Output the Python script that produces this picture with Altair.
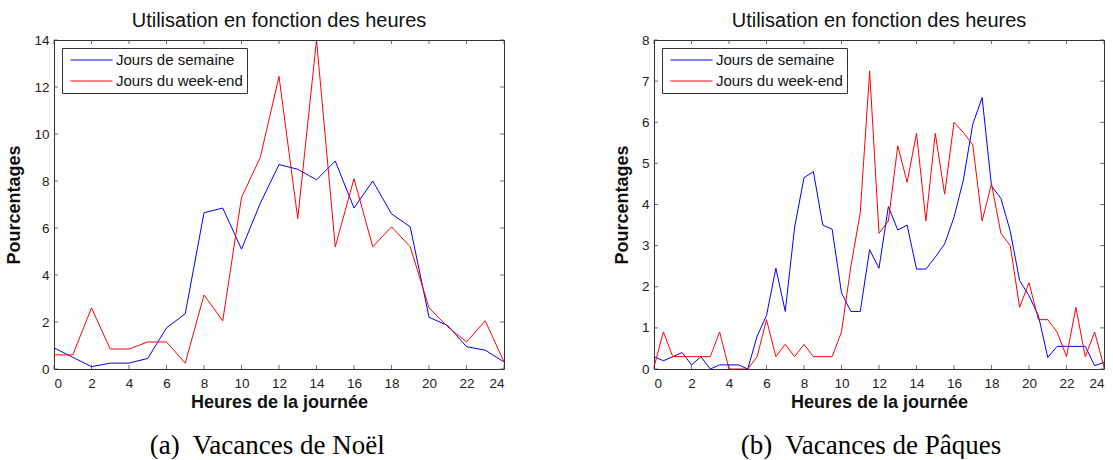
import altair as alt
import pandas as pd

SERIES = ["Jours de semaine", "Jours du week-end"]
COLORS = ["#0000ff", "#ff0000"]
AXIS_COLOR = "#333333"

x_tick_values = list(range(0, 25, 2))

# Vacances de Noël : one value per hour
noel_hours = list(range(0, 25))
noel_semaine = [0.9, 0.5, 0.1, 0.25, 0.25, 0.45, 1.75, 2.35, 6.65, 6.85, 5.1,
                7.05, 8.7, 8.5, 8.05, 8.85, 6.85, 8.0, 6.6, 6.05, 2.2, 1.85,
                0.95, 0.8, 0.3]
noel_weekend = [0.6, 0.6, 2.6, 0.85, 0.85, 1.15, 1.15, 0.25, 3.15, 2.05, 7.3,
                9.0, 12.45, 6.4, 14.0, 5.2, 8.1, 5.2, 6.05, 5.2, 2.6, 1.8,
                1.15, 2.05, 0.3]
noel_y_ticks = list(range(0, 15, 2))

# Vacances de Pâques : one value per half hour
paques_hours = [h / 2 for h in range(0, 49)]
paques_semaine = [0.3, 0.2, 0.3, 0.4, 0.1, 0.3, 0.0, 0.1, 0.1, 0.1,
                  0.0, 0.8, 1.3, 2.45, 1.4, 3.45, 4.65, 4.8, 3.5, 3.4,
                  1.85, 1.4, 1.4, 2.9, 2.45, 3.95, 3.38, 3.5, 2.43, 2.43,
                  2.72, 3.04, 3.69, 4.6, 5.95, 6.6, 4.45, 4.15, 3.35, 2.15,
                  1.78, 1.3, 0.28, 0.55, 0.55, 0.55, 0.55, 0.08, 0.16]
paques_weekend = [0.05, 0.9, 0.3, 0.3, 0.3, 0.3, 0.3, 0.9, 0.0, 0.0,
                  0.0, 0.3, 1.2, 0.3, 0.6, 0.3, 0.6, 0.3, 0.3, 0.3,
                  0.9, 2.5, 3.8, 7.25, 3.3, 3.6, 5.43, 4.54, 5.73, 3.6,
                  5.73, 4.25, 6.0, 5.75, 5.45, 3.6, 4.5, 3.3, 3.0, 1.5,
                  2.1, 1.2, 1.2, 0.9, 0.3, 1.5, 0.3, 0.9, 0.05]
paques_y_ticks = list(range(0, 9))

W, H = 450, 329


def panel(hours, semaine, weekend, ymax, yticks):
    df = pd.DataFrame({
        "heure": list(hours) * 2,
        "valeur": list(semaine) + list(weekend),
        "serie": [SERIES[0]] * len(hours) + [SERIES[1]] * len(hours),
    })
    xscale = alt.Scale(domain=[0, 24], nice=False, zero=False)
    yscale = alt.Scale(domain=[0, ymax], nice=False, zero=True)
    xaxis = alt.Axis(values=x_tick_values, format="d", title="Heures de la journée")
    yaxis = alt.Axis(values=yticks, format="d", title="Pourcentages")

    lines = alt.Chart(df).mark_line(strokeWidth=1, clip=True).encode(
        x=alt.X("heure:Q", scale=xscale, axis=xaxis),
        y=alt.Y("valeur:Q", scale=yscale, axis=yaxis),
        color=alt.Color(
            "serie:N",
            scale=alt.Scale(domain=SERIES, range=COLORS),
            legend=alt.Legend(
                title=None, orient="top-left", offset=8,
                strokeColor=AXIS_COLOR, fillColor="white", padding=4,
                symbolOffset=4,
                symbolType="stroke", symbolSize=1764, symbolStrokeWidth=1,
                labelFont="Liberation Sans", labelFontSize=15,
                labelColor="#111111", labelOffset=3, rowPadding=5,
                clipHeight=16,
            ),
        ),
        order=alt.Order("heure:Q"),
    )

    # inward tick marks on all four sides of the box
    xt = pd.DataFrame({"heure": x_tick_values})
    yt = pd.DataFrame({"valeur": yticks})
    tx = alt.Chart(xt).mark_tick(orient="vertical", size=4, thickness=1,
                                 color=AXIS_COLOR)
    ty = alt.Chart(yt).mark_tick(orient="horizontal", size=4, thickness=1,
                                 color=AXIS_COLOR)
    xenc = alt.X("heure:Q", scale=xscale, axis=xaxis)
    yenc = alt.Y("valeur:Q", scale=yscale, axis=yaxis)
    bottom = tx.encode(x=xenc, y=alt.value(H - 2))
    top = tx.encode(x=xenc, y=alt.value(2))
    left = ty.encode(y=yenc, x=alt.value(2))
    right = ty.encode(y=yenc, x=alt.value(W - 2))

    return alt.layer(lines, bottom, top, left, right).properties(
        width=W, height=H,
        title=alt.TitleParams("Utilisation en fonction des heures"),
    )


def captioned(chart, text, dx):
    return alt.vconcat(
        chart,
        title=alt.TitleParams(
            text, orient="bottom", anchor="middle", font="Liberation Serif",
            fontSize=27, fontWeight="normal", color="#000000", offset=21, dx=dx,
        ),
    ).resolve_scale(color="independent")


noel = panel(noel_hours, noel_semaine, noel_weekend, 14, noel_y_ticks)
paques = panel(paques_hours, paques_semaine, paques_weekend, 8, paques_y_ticks)

chart = alt.hconcat(
    captioned(noel, "(a)\u00a0 Vacances de Noël", 12),
    captioned(paques, "(b)\u00a0 Vacances de Pâques", 12),
    spacing=107,
).resolve_scale(color="independent").properties(
    padding={"left": 5, "top": 10, "right": 5, "bottom": 0},
).configure_view(
    stroke=AXIS_COLOR, strokeWidth=1,
).configure_axis(
    domain=False, ticks=False, grid=False,
    labelFont="Liberation Sans", labelFontSize=13.5, labelColor="#222222",
    titleFont="Liberation Sans", titleFontSize=18, titleFontWeight="bold",
    titleColor="#111111",
).configure_axisX(
    labelPadding=7, titlePadding=4,
).configure_axisY(
    labelPadding=5, titlePadding=10,
).configure_title(
    font="Liberation Sans", fontSize=20, fontWeight="normal",
    color="#111111", offset=2, anchor="middle",
).configure_concat(spacing=107)

chart.save("out.html", embed_options={"renderer": "svg", "actions": False})
